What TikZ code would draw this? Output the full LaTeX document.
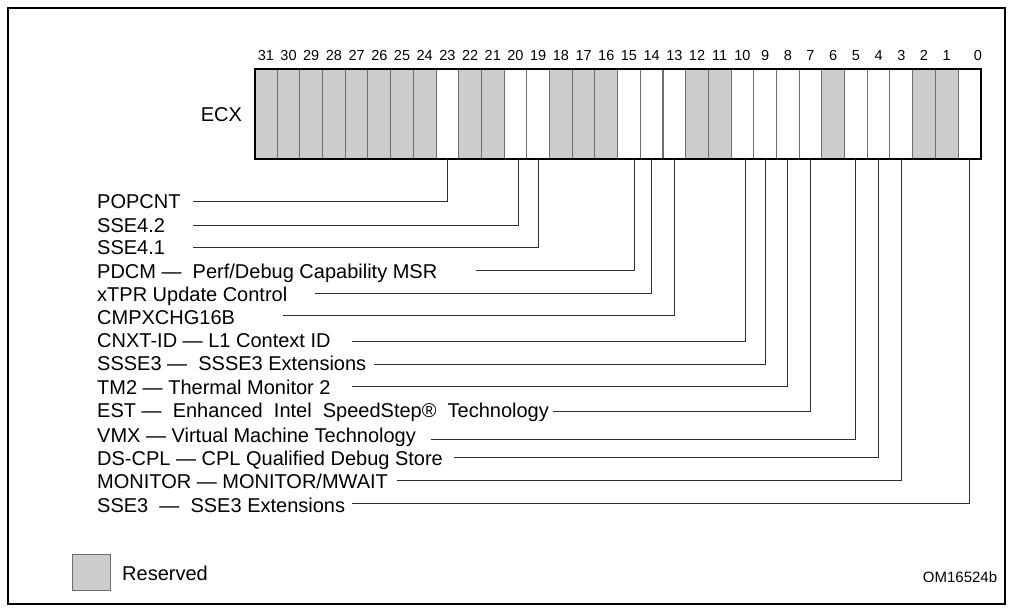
\documentclass[tikz,border=0pt]{standalone}
\usepackage{fontspec}
\setmainfont{Liberation Sans}
\definecolor{resgray}{HTML}{CCCCCC}
\definecolor{cellline}{HTML}{6E6E6E}
\definecolor{connline}{HTML}{303030}
\begin{document}
\begin{tikzpicture}[x=1pt,y=-1pt,
  cellg/.style={draw=cellline, fill=resgray, minimum width=22.694pt, minimum height=90pt, inner sep=0pt, outer sep=0pt, line width=1pt},
  cellw/.style={cellg, fill=white},
  lbl/.style={anchor=base west, inner sep=0pt, font=\fontsize{20}{24}\selectfont},
  bitn/.style={anchor=base, inner sep=0pt, font=\fontsize{14.5}{17}\selectfont},
  conn/.style={draw=connline, line width=1pt}]
\useasboundingbox (0,0) rectangle (1012,611);
\draw[line width=2pt] (8,8) rectangle (1005,604);
% register cells
\foreach \b in {31,30,29,28,27,26,25,24,22,21,18,17,16,12,11,6,2,1}
  \node[cellg] (b\b) at ({254.5+(31-\b+0.5)*22.694},114.3) {};
\foreach \b in {23,20,19,15,14,13,10,9,8,7,5,4,3,0}
  \node[cellw] (b\b) at ({254.5+(31-\b+0.5)*22.694},114.3) {};
\draw[line width=2pt] (b31.north west) rectangle (b0.south east);
% bit numbers
\foreach \b in {1,...,31}
  \node[bitn] (n\b) at ({254.5+(31-\b+0.5)*22.694},60.2) {\b};
\node[bitn] (n0) at (978,60.2) {0};
\node[lbl] (ecx) at (200.7,121.2) {ECX};
% labels
\node[lbl] (l23) at (97,208.9) {POPCNT};
\node[lbl] (l20) at (97,232.7) {SSE4.2};
\node[lbl] (l19) at (97,254.9) {SSE4.1};
\node[lbl] (l15) at (97,278.9) {PDCM —\ \ Perf/Debug Capability MSR};
\node[lbl] (l14) at (97,301.7) {xTPR Update Control};
\node[lbl] (l13) at (97,324.2) {CMPXCHG16B};
\node[lbl] (l10) at (97,347.7) {CNXT-ID — L1 Context ID};
\node[lbl] (l9) at (97,370.7) {SSSE3 —\ \ SSSE3 Extensions};
\node[lbl] (l8) at (97,394.2) {TM2 — Thermal Monitor 2};
\node[lbl] (l7) at (97,417.9) {EST —\ \ Enhanced\ \ Intel\ \ SpeedStep®\ \ Technology};
\node[lbl] (l5) at (97,442.9) {VMX — Virtual Machine Technology};
\node[lbl] (l4) at (97,465.5) {DS-CPL — CPL Qualified Debug Store};
\node[lbl] (l3) at (97,488.9) {MONITOR — MONITOR/MWAIT};
\node[lbl] (l0) at (97,512.7) {SSE3\ \ —\ \ SSE3 Extensions};
% connector ends
\coordinate (c23) at (192.7,201.7);
\coordinate (c20) at (192.7,225);
\coordinate (c19) at (192.7,247.7);
\coordinate (c15) at (475.7,270.5);
\coordinate (c14) at (315,293.3);
\coordinate (c13) at (282.7,315.5);
\coordinate (c10) at (351.7,341);
\coordinate (c9) at (374,364);
\coordinate (c8) at (351.7,386.7);
\coordinate (c7) at (553.3,411);
\coordinate (c5) at (430.7,439);
\coordinate (c4) at (454,457.5);
\coordinate (c3) at (396.7,480);
\coordinate (c0) at (351.7,503.5);
\foreach \b in {23,19,14,13,9,8,7,5,4,3,0}
  \draw[conn] (b\b.south) |- (c\b);
\draw[conn] ([xshift=2.8pt]b20.south) |- (c20);
\draw[conn] ([xshift=5.7pt]b15.south) |- (c15);
\draw[conn] ([xshift=2.9pt]b10.south) |- (c10);
% legend
\node[cellg, minimum width=38pt, minimum height=36pt, anchor=north west] (leg) at (72,554) {};
\node[lbl] (legt) at (122,580) {Reserved};
\node[anchor=base west, inner sep=0pt, font=\fontsize{15}{18}\selectfont] (om) at (922.7,582.2) {OM16524b};
\end{tikzpicture}
\end{document}
